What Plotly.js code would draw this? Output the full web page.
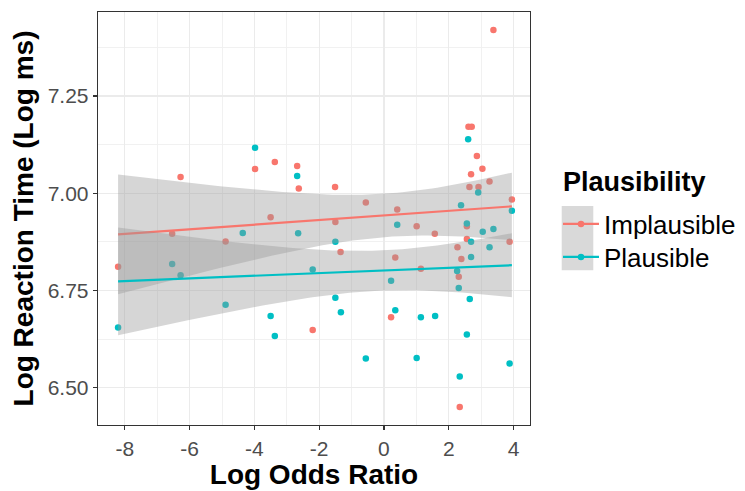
<!DOCTYPE html>
<html><head><meta charset="utf-8">
<script src="https://cdn.plot.ly/plotly-3.0.1.min.js"></script>
<style>body{margin:0;background:#fff}#chart{width:745px;height:491px}</style>
</head><body><div id="chart"></div>
<script>
// Implausible group
const implX = [-6.28,-8.21,-6.54,-4.89,-3.98,-3.37,-2.68,-2.63,-1.51,-0.56,-3.50,-1.50,-1.34,-2.20,3.38,2.61,2.71,2.87,3.04,2.69,2.64,2.92,3.26,0.41,3.95,1.01,1.57,2.56,2.56,2.27,3.88,0.35,2.39,1.14,2.31,0.22,2.34];
const implY = [7.042,6.811,6.896,6.876,7.062,7.080,7.070,7.012,7.016,6.976,6.938,6.926,6.849,6.648,7.420,7.171,7.171,7.096,7.063,7.049,7.016,7.016,7.030,6.958,6.984,6.915,6.896,6.915,6.882,6.861,6.875,6.835,6.831,6.806,6.785,6.681,6.450];
// Plausible group
const plauX = [-8.21,-6.54,-6.28,-4.89,-4.36,-3.98,-2.68,-2.65,-1.50,-2.20,-1.50,-1.33,-3.50,-3.37,-0.56,2.60,2.91,2.38,3.95,0.41,2.56,3.05,3.38,2.69,3.26,2.69,2.26,0.22,2.31,2.65,0.35,1.14,1.58,2.56,1.01,3.88,2.34];
const plauY = [6.655,6.818,6.789,6.713,6.898,7.117,7.044,6.897,6.875,6.804,6.731,6.694,6.684,6.633,6.575,7.139,7.002,6.969,6.955,6.919,6.922,6.901,6.908,6.875,6.861,6.836,6.800,6.775,6.756,6.728,6.699,6.681,6.684,6.637,6.576,6.562,6.529];

const groups = ["Implausible","Plausible"];
const colors = ["#F8766D","#00BFC4"];
const legendTitle = "Plausibility";
const xTicks = [-8,-6,-4,-2,0,2,4];
const yTicks = [6.50,6.75,7.00,7.25];

function tq(df){
  const z=1.959964;
  const g1=(Math.pow(z,3)+z)/4;
  const g2=(5*Math.pow(z,5)+16*Math.pow(z,3)+3*z)/96;
  const g3=(3*Math.pow(z,7)+19*Math.pow(z,5)+17*Math.pow(z,3)-15*z)/384;
  return z+g1/df+g2/(df*df)+g3/(df*df*df);
}
function smooth(xs, ys){
  const n=xs.length;
  const mx=xs.reduce((a,b)=>a+b,0)/n, my=ys.reduce((a,b)=>a+b,0)/n;
  let sxx=0,sxy=0;
  for(let i=0;i<n;i++){sxx+=(xs[i]-mx)**2;sxy+=(xs[i]-mx)*(ys[i]-my);}
  const b=sxy/sxx, a=my-b*mx;
  let sse=0; for(let i=0;i<n;i++){sse+=(ys[i]-a-b*xs[i])**2;}
  const s=Math.sqrt(sse/(n-2)), t=tq(n-2);
  const lo=Math.min(...xs), hi=Math.max(...xs);
  const gx=[],gy=[],up=[],dn=[];
  for(let k=0;k<80;k++){
    const x=lo+(hi-lo)*k/79; const y=a+b*x;
    const se=s*Math.sqrt(1/n+(x-mx)**2/sxx);
    gx.push(x);gy.push(y);up.push(y+t*se);dn.push(y-t*se);
  }
  return {gx,gy,up,dn};
}

const data=[];
const xsAll=[implX,plauX], ysAll=[implY,plauY];
for(let g=0;g<2;g++){
  data.push({x:xsAll[g],y:ysAll[g],type:'scatter',mode:'markers',showlegend:false,
    marker:{color:colors[g],size:6.5},hoverinfo:'skip'});
}
for(let g=0;g<2;g++){
  const s=smooth(xsAll[g],ysAll[g]);
  data.push({x:s.gx.concat(s.gx.slice().reverse()),y:s.up.concat(s.dn.slice().reverse()),
    type:'scatter',mode:'lines',fill:'toself',fillcolor:'rgba(153,153,153,0.4)',
    line:{width:0,color:'rgba(0,0,0,0)'},showlegend:false,hoverinfo:'skip'});
  data.push({x:s.gx,y:s.gy,type:'scatter',mode:'lines',line:{color:colors[g],width:2.2},
    showlegend:false,hoverinfo:'skip'});
}
const legendIds=['legend','legend2'];
for(let g=0;g<2;g++){
  data.push({x:[null],y:[null],type:'scatter',mode:'lines+markers',name:groups[g],
    legend:legendIds[g],
    line:{color:colors[g],width:2.2},marker:{color:colors[g],size:6.5}});
}

const legBase={x:1.0648,xanchor:'left',yanchor:'middle',bgcolor:'rgba(0,0,0,0)',
  font:{size:26,color:'#000'},itemwidth:36};
const layout={
  width:745,height:491,
  margin:{l:98,r:215,t:12,b:66,autoexpand:false},
  paper_bgcolor:'#fff',plot_bgcolor:'#fff',
  font:{family:'Liberation Sans, Arial, sans-serif',color:'#000'},
  xaxis:{range:[-8.83,4.51],tickmode:'array',tickvals:xTicks,ticktext:xTicks.map(String),
    showgrid:true,gridcolor:'#EBEBEB',gridwidth:1.2,
    minor:{dtick:1,tick0:0,showgrid:true,gridcolor:'#EFEFEF',gridwidth:0.9},
    zeroline:false,
    showline:true,linecolor:'#333',linewidth:1.3,mirror:true,
    ticks:'outside',ticklen:4,tickcolor:'#333',tickwidth:1.2,
    tickfont:{size:21,color:'#4D4D4D'},
    title:{text:'<b>Log Odds Ratio</b>',font:{size:28,color:'#000'},standoff:1}},
  yaxis:{range:[6.404,7.466],tickmode:'array',tickvals:yTicks,ticktext:yTicks.map(v=>v.toFixed(2)),
    showgrid:true,gridcolor:'#EBEBEB',gridwidth:1.2,
    minor:{dtick:0.125,tick0:6.5,showgrid:true,gridcolor:'#EFEFEF',gridwidth:0.9},
    zeroline:false,
    showline:true,linecolor:'#333',linewidth:1.3,mirror:true,
    ticks:'outside',ticklen:4,tickcolor:'#333',tickwidth:1.2,
    tickfont:{size:21,color:'#4D4D4D'},
    title:{text:'<b>Log Reaction Time (Log ms)</b>',font:{size:28,color:'#000'},standoff:5}},
  legend:Object.assign({},legBase,{y:0.4867}),
  legend2:Object.assign({},legBase,{y:0.4068}),
  annotations:[{xref:'paper',yref:'paper',x:1.072,y:0.588,xanchor:'left',yanchor:'middle',
    showarrow:false,text:'<b>'+legendTitle+'</b>',font:{size:27,color:'#000'}}],
  shapes:[{type:'rect',xref:'paper',yref:'paper',x0:1.0734,x1:1.1465,y0:0.375,y1:0.530,
    fillcolor:'#D9D9D9',line:{width:0},layer:'below'}]
};
Plotly.newPlot('chart',data,layout,{displayModeBar:false,staticPlot:true});
</script></body></html>
